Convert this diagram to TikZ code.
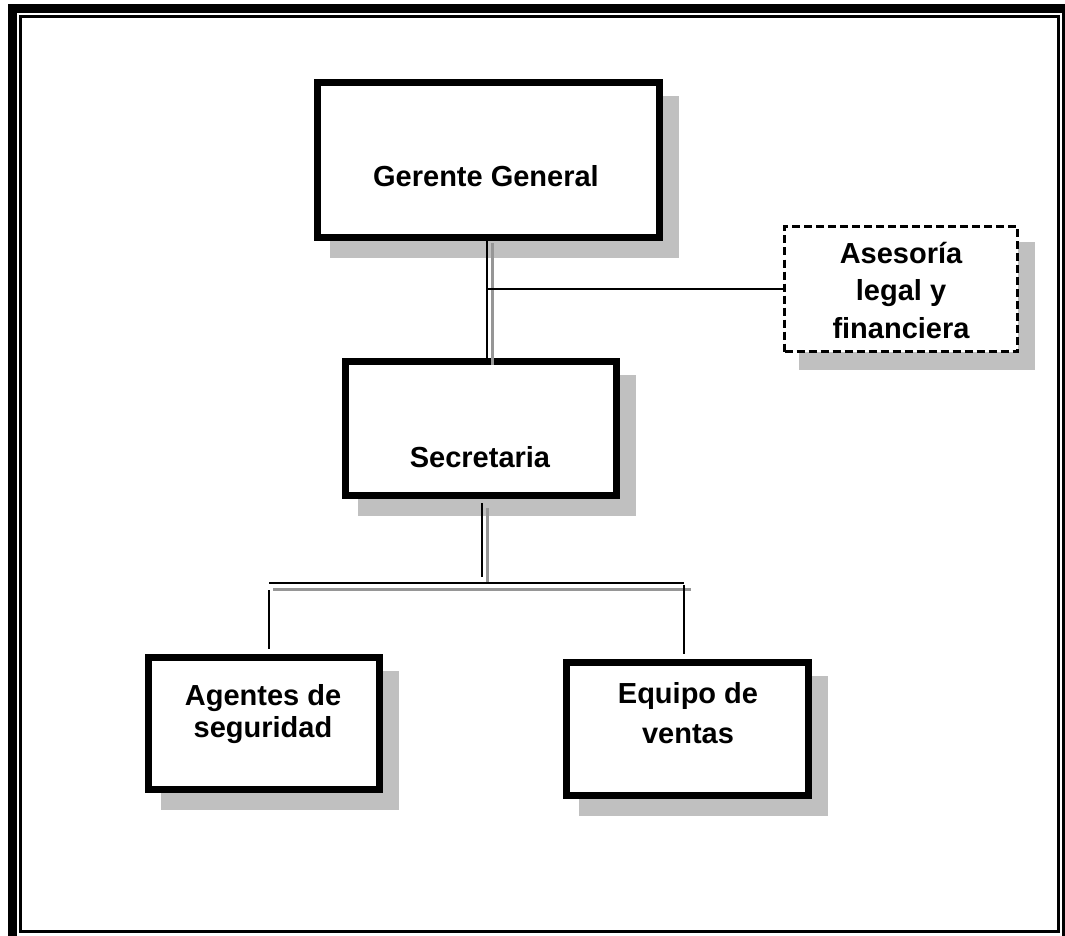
\documentclass[tikz,border=0pt]{standalone}
\usepackage{fontspec}
\setmainfont{Liberation Sans}
\usetikzlibrary{backgrounds}
\definecolor{shadowgray}{RGB}{192,192,192}
\definecolor{linkgray}{RGB}{150,150,150}
\begin{document}
\begin{tikzpicture}[x=1pt,y=-1pt,
  unitbox/.style={draw=black, line width=7pt, fill=white, inner sep=0pt, outer sep=0pt},
  advbox/.style={draw=black, line width=3pt, dash pattern=on 8pt off 4pt, fill=white, inner sep=0pt, outer sep=0pt},
  lbl/.style={anchor=base, inner sep=0pt, font=\fontsize{29}{35}\selectfont\bfseries},
  link/.style={draw=black, line width=1.7pt},
  linkshade/.style={draw=linkgray, line width=3pt},
  boxshade/.style={fill=shadowgray}]
\useasboundingbox (0,0) rectangle (1065,936);
\clip (0,0) rectangle (1065,936);

% page frame: heavy outer rule and thin inner rule
\draw[line width=9pt] (12.5,9) rectangle (1066.5,940.5);
\draw[line width=3pt] (20,17) rectangle (1058.5,931.5);

% units
\node[unitbox, minimum width=342pt, minimum height=155pt] (gg)  at (488.5,160)   {};
\node[unitbox, minimum width=271pt, minimum height=134pt] (sec) at (481,428.5)   {};
\node[unitbox, minimum width=231pt, minimum height=132pt] (ag)  at (264,723.5)   {};
\node[unitbox, minimum width=242pt, minimum height=133pt] (eq)  at (687.5,729)   {};
\node[advbox,  minimum width=233pt, minimum height=125pt] (ase) at (901,289)     {};

% drop shadows
\begin{scope}[on background layer]
  \foreach \n in {gg,sec,ag,eq}{
    \fill[boxshade] ([shift={(12.5,13.5)}]\n.north west) rectangle ([shift={(19.5,20.5)}]\n.south east);
  }
  \fill[boxshade] ([shift={(14.5,15.5)}]ase.north west) rectangle ([shift={(17.5,18.5)}]ase.south east);
\end{scope}

% labels
\node[lbl] (ggt)  at (486,187) {Gerente General};
\node[lbl] (sect) at (480,467) {Secretaria};
\node[lbl] (ase1) at (901,263) {Asesoría};
\node[lbl] (ase2) at (901,300) {legal y};
\node[lbl] (ase3) at (901,338) {financiera};
\node[lbl] (ag1)  at (263,705) {Agentes de};
\node[lbl] (ag2)  at (263,737) {seguridad};
\node[lbl] (eq1)  at (688,703) {Equipo de};
\node[lbl] (eq2)  at (688,743) {ventas};

% bus points
\coordinate (busL) at (269,583);
\coordinate (busR) at (684,583);

% Gerente General -> Secretaria
\draw[link] ([xshift=-1.5pt]gg.south) -- ([xshift=-1.5pt]gg.south |- sec.north);
\draw[linkshade] ([shift={(3.5,5.5)}]gg.south) -- ([shift={(3.5,0)}]gg.south |- sec.north) -- ++(0,3.5);
% staff line to Asesoría
\draw[link] (ase.west) -- ([xshift=-1.5pt]gg.south |- ase.west);

% Secretaria -> bus
\draw[link] ([shift={(1,7.5)}]sec.south) -- ([shift={(1,-6)}]sec.south |- busL);
\draw[linkshade] ([shift={(6,12.5)}]sec.south) -- ([shift={(6,0)}]sec.south |- busL);
\draw[link] (busL) -- (busR);
\draw[linkshade] ([shift={(4,6)}]busL) -- ([shift={(7,6)}]busR);

% bus -> units
\draw[link] ([yshift=-7pt]busL) -- ([yshift=8.5pt]busL |- ag.north);
\draw[link] ([yshift=-2pt]busR) -- ([yshift=8.5pt]busR |- eq.north);
\end{tikzpicture}
\end{document}
